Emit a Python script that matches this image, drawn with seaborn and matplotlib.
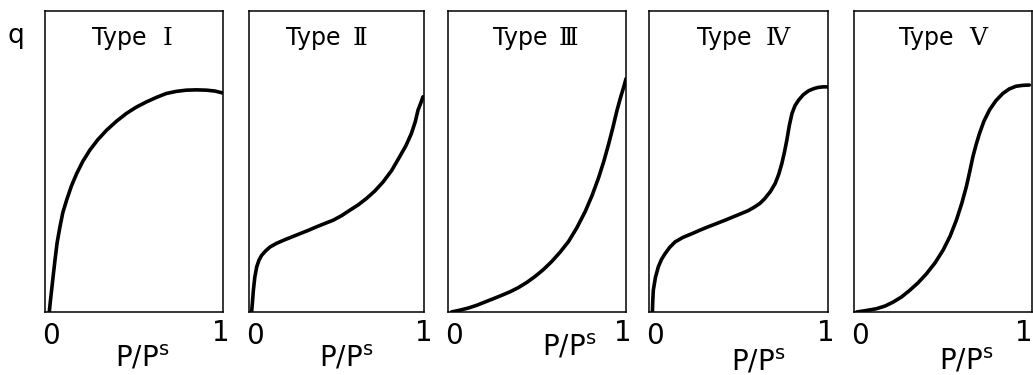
import numpy as np
import pandas as pd
import matplotlib
matplotlib.use("Agg")
import matplotlib.pyplot as plt
import seaborn as sns

# ---------------------------------------------
# Isotherm shapes
# x = P/Ps (0..1), y = q as fraction of box height
# ---------------------------------------------
type_numerals = ["Ⅰ", "Ⅱ", "Ⅲ", "Ⅳ", "Ⅴ"]

x_type1 = [0.024, 0.030, 0.037, 0.046, 0.056, 0.068, 0.084, 0.100, 0.121, 0.148,
           0.178, 0.212, 0.252, 0.296, 0.346, 0.400, 0.458, 0.514, 0.570, 0.626,
           0.682, 0.738, 0.794, 0.850, 0.907, 0.955, 0.996]
y_type1 = [0.000, 0.035, 0.072, 0.120, 0.172, 0.230, 0.283, 0.330, 0.371, 0.418,
           0.460, 0.500, 0.538, 0.572, 0.604, 0.633, 0.660, 0.681, 0.698, 0.713,
           0.726, 0.733, 0.737, 0.738, 0.737, 0.734, 0.728]

x_type2 = [0.015, 0.020, 0.025, 0.033, 0.044, 0.057, 0.072, 0.095, 0.120, 0.157,
           0.196, 0.243, 0.290, 0.338, 0.386, 0.433, 0.481, 0.529, 0.576, 0.624,
           0.671, 0.719, 0.766, 0.815, 0.861, 0.897, 0.928, 0.950, 0.966, 0.982, 0.994]
y_type2 = [0.000, 0.035, 0.072, 0.115, 0.150, 0.172, 0.188, 0.203, 0.216, 0.228,
           0.238, 0.249, 0.260, 0.271, 0.283, 0.294, 0.305, 0.320, 0.338, 0.356,
           0.377, 0.402, 0.432, 0.470, 0.516, 0.553, 0.593, 0.632, 0.671, 0.695, 0.715]

x_type3 = [0.019, 0.066, 0.113, 0.160, 0.207, 0.254, 0.300, 0.348, 0.395, 0.442,
           0.489, 0.536, 0.583, 0.630, 0.677, 0.724, 0.771, 0.810, 0.846, 0.875,
           0.902, 0.926, 0.949, 0.968, 0.987, 1.000]
y_type3 = [0.000, 0.006, 0.013, 0.022, 0.033, 0.044, 0.055, 0.067, 0.081, 0.098,
           0.118, 0.141, 0.168, 0.199, 0.234, 0.280, 0.334, 0.388, 0.446, 0.500,
           0.557, 0.612, 0.669, 0.710, 0.747, 0.775]

x_type4 = [0.019, 0.021, 0.024, 0.036, 0.052, 0.070, 0.090, 0.116, 0.146, 0.190,
           0.239, 0.285, 0.330, 0.378, 0.425, 0.470, 0.515, 0.555, 0.590, 0.620,
           0.647, 0.678, 0.705, 0.725, 0.742, 0.757, 0.770, 0.784, 0.799, 0.816,
           0.836, 0.862, 0.892, 0.920, 0.944, 0.972, 1.000]
y_type4 = [0.000, 0.035, 0.072, 0.115, 0.150, 0.175, 0.194, 0.215, 0.233, 0.248,
           0.260, 0.272, 0.283, 0.294, 0.305, 0.316, 0.327, 0.337, 0.349, 0.361,
           0.377, 0.400, 0.427, 0.458, 0.493, 0.532, 0.571, 0.620, 0.660, 0.686,
           0.704, 0.722, 0.735, 0.742, 0.746, 0.748, 0.748]

x_type5 = [0.015, 0.070, 0.127, 0.175, 0.220, 0.267, 0.313, 0.360, 0.407, 0.455,
           0.500, 0.540, 0.575, 0.605, 0.631, 0.650, 0.668, 0.686, 0.705, 0.730,
           0.761, 0.797, 0.836, 0.872, 0.910, 0.948, 0.985]
y_type5 = [0.000, 0.005, 0.011, 0.020, 0.033, 0.050, 0.072, 0.097, 0.127, 0.163,
           0.205, 0.252, 0.305, 0.360, 0.416, 0.466, 0.516, 0.556, 0.593, 0.634,
           0.671, 0.702, 0.726, 0.741, 0.750, 0.753, 0.754]

xs = [x_type1, x_type2, x_type3, x_type4, x_type5]
ys = [y_type1, y_type2, y_type3, y_type4, y_type5]

# ---------------------------------------------
# Layout (pixels of a 1033 x 375 figure)
# ---------------------------------------------
W, H = 1033, 375
box_left = [45, 249, 448, 649, 854]
box_width = [178, 175, 178, 179, 178]
box_top, box_bottom = 11, 312
xlab_shift = [8, 10, 32, 20, 23]      # P/Ps label offset from box centre
xlab_y = [358, 358, 347, 362, 361]
one_x = [221, 424, 623, 826, 1024]
type_end = [0.57, 0.52, 0.56, 0.57, 0.56]   # right edge of "Type" (axes frac)
num_start = [0.66, 0.59, 0.62, 0.65, 0.65]  # left edge of numeral

sns.set_theme(style="white")
plt.rcParams["font.family"] = ["DejaVu Sans"]
plt.rcParams["text.color"] = "black"

fig = plt.figure(figsize=(W / 100, H / 100), dpi=100)

for i in range(5):
    ax = fig.add_axes([box_left[i] / W, (H - box_bottom) / H,
                       box_width[i] / W, (box_bottom - box_top) / H])
    df = pd.DataFrame({"p": xs[i], "q": ys[i]})
    sns.lineplot(data=df, x="p", y="q", ax=ax, color="black", lw=2.6,
                 sort=False, solid_capstyle="round", solid_joinstyle="round")
    ax.set_xlim(0, 1)
    ax.set_ylim(0, 1)
    ax.set_xticks([])
    ax.set_yticks([])
    ax.set_xlabel("")
    ax.set_ylabel("")
    for sp in ax.spines.values():
        sp.set_color("black")
        sp.set_linewidth(1.1)
        sp.set_visible(True)

    # title: "Type" in sans, numeral in serif (barred roman numerals)
    ax.text(type_end[i], 0.91, "Type", transform=ax.transAxes,
            ha="right", va="center", fontsize=17)
    ax.text(num_start[i], 0.91, type_numerals[i], transform=ax.transAxes,
            ha="left", va="center", fontsize=18,
            family=["DejaVu Serif", "DejaVu Sans"])

    # axis end labels
    fig.text((box_left[i] + 6) / W, 1 - 336 / H, "0",
             ha="center", va="center", fontsize=20)
    fig.text(one_x[i] / W, 1 - 333 / H, "1",
             ha="center", va="center", fontsize=20)
    cx = box_left[i] + box_width[i] / 2 + xlab_shift[i]
    fig.text(cx / W, 1 - xlab_y[i] / H, r"P/P$^{\mathrm{s}}$",
             ha="center", va="center", fontsize=20)

fig.text(16 / W, 1 - 36 / H, "q", ha="center", va="center", fontsize=19)

plt.savefig("out.png", dpi=100)
